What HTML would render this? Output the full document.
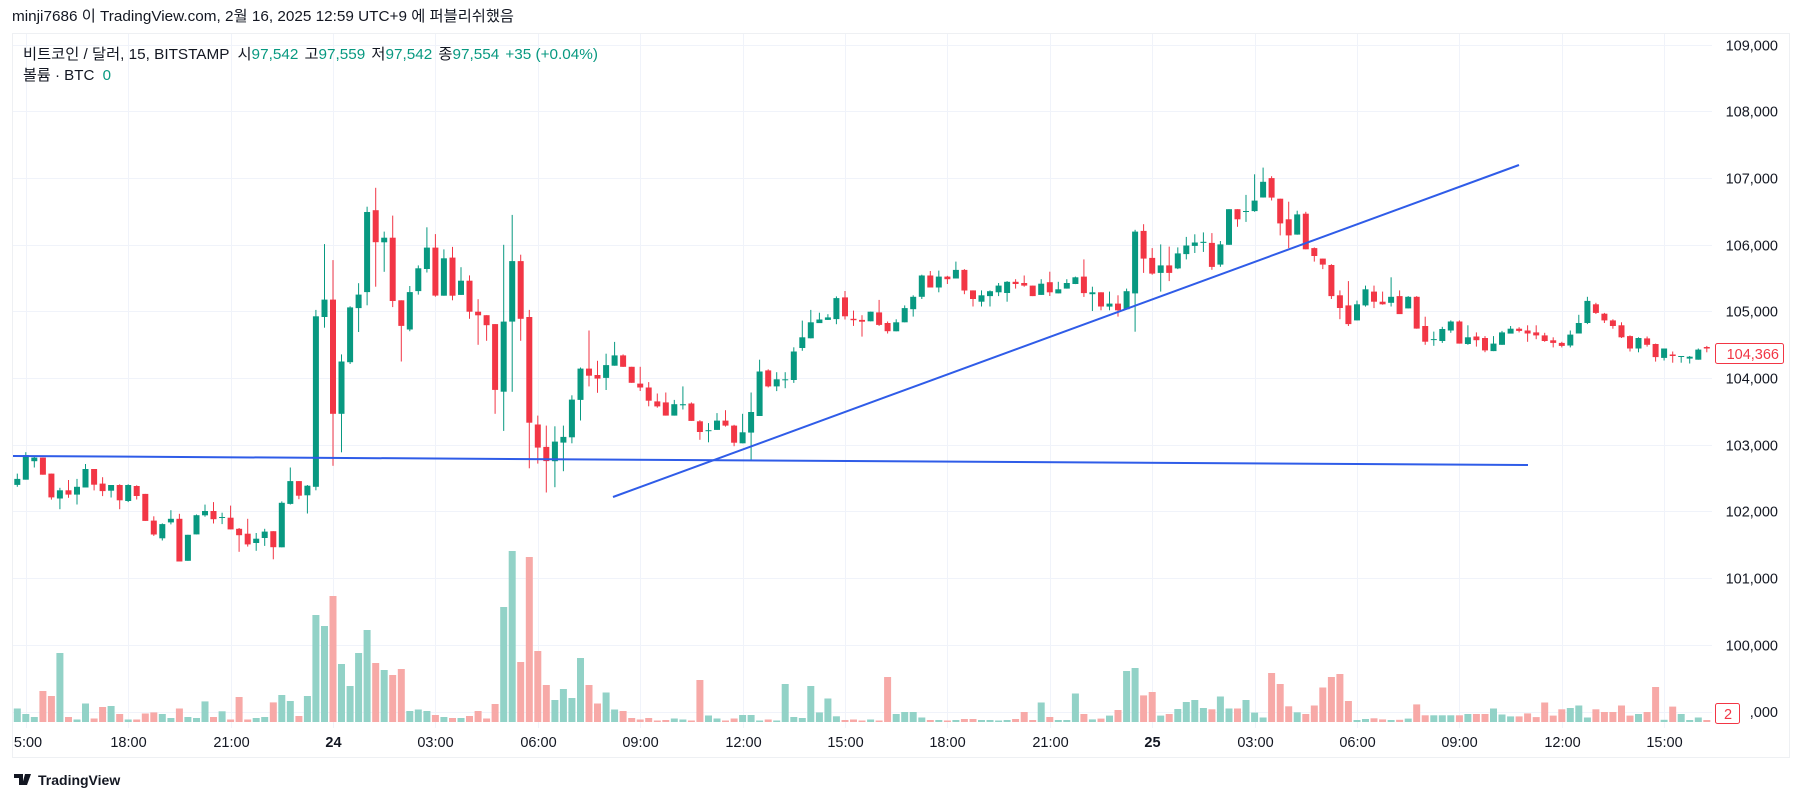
<!DOCTYPE html>
<html><head><meta charset="utf-8">
<style>
body{margin:0;background:#fff;width:1804px;height:803px;overflow:hidden;font-family:"Liberation Sans","Noto Sans CJK KR",sans-serif;color:#131722}
svg{position:absolute;left:0;top:0}
text{font-family:"Liberation Sans","Noto Sans CJK KR",sans-serif}
</style></head><body>
<svg id="s" width="1804" height="803" xmlns="http://www.w3.org/2000/svg">
<rect x="0" y="0" width="1804" height="803" fill="#fff"/>
<g id="grid" stroke="#f0f3fa" stroke-width="1"></g>
<rect x="12.5" y="33.5" width="1777" height="724" fill="none" stroke="#eef0f3"/>
<g id="vol"></g>
<g id="cdl"></g>
<line x1="13" y1="456" x2="1528" y2="465" stroke="#2f5ce8" stroke-width="2"/>
<line x1="613" y1="497" x2="1519" y2="165" stroke="#2f5ce8" stroke-width="2"/>
<text x="12" y="21" font-size="15" fill="#131722" textLength="502" lengthAdjust="spacingAndGlyphs">minji7686 이 TradingView.com, 2월 16, 2025 12:59 UTC+9 에 퍼블리쉬했음</text>
<text x="23" y="59" font-size="15" fill="#131722" textLength="575" lengthAdjust="spacingAndGlyphs">비트코인 / 달러, 15, BITSTAMP <tspan dx="4">시</tspan><tspan fill="#089981">97,542</tspan><tspan dx="6">고</tspan><tspan fill="#089981">97,559</tspan><tspan dx="6">저</tspan><tspan fill="#089981">97,542</tspan><tspan dx="6">종</tspan><tspan fill="#089981">97,554</tspan><tspan dx="6" fill="#089981">+35 (+0.04%)</tspan></text>
<text x="23" y="80" font-size="15" fill="#131722" textLength="88" lengthAdjust="spacingAndGlyphs">볼륨 · BTC <tspan dx="4" fill="#089981">0</tspan></text>
<g id="pax" font-size="14.5" fill="#131722" text-anchor="end"></g>
<g id="tax" font-size="14.5" fill="#131722" text-anchor="middle"></g>
<rect x="1715.5" y="343.5" width="68" height="20" fill="#fff" stroke="#f23645" rx="2"/>
<text x="1779" y="359" font-size="14.5" fill="#f23645" text-anchor="end">104,366</text>
<rect x="1715.5" y="703.5" width="24" height="20" fill="#fff" stroke="#f23645" rx="2"/>
<text x="1728" y="719" font-size="14.5" fill="#f23645" text-anchor="middle">2</text>
<g transform="translate(14,772)">
<path d="M0 2h9v11h-4V6H0z M11 2h3l-3 11H8z" fill="#131722"/>
<circle cx="14" cy="4" r="2" fill="#131722"/>
<path d="M13 2h4l-4 11h-3z" fill="#131722"/>
<text x="24" y="13" font-size="14" font-weight="bold" fill="#131722">TradingView</text>
</g>
</svg>
<script>
var NS="http://www.w3.org/2000/svg";
function el(p,n,a){var e=document.createElementNS(NS,n);for(var k in a)e.setAttribute(k,a[k]);p.appendChild(e);return e;}
function py(p){return 44.5+(109000-p)*0.0667;}
var grid=document.getElementById('grid'),pax=document.getElementById('pax'),tax=document.getElementById('tax');
for(var p=109000;p>=99000;p-=1000){var y=Math.round(py(p))+0.5;el(grid,'line',{x1:13,x2:1712,y1:y,y2:y});
 if(p>99000){var t=el(pax,'text',{x:1778,y:y+5});t.textContent=(p/1000)+',000';}}
var t=el(pax,'text',{x:1778,y:Math.round(py(99000))+5});t.textContent=',000';
var labs=['5:00','18:00','21:00','24','03:00','06:00','09:00','12:00','15:00','18:00','21:00','25','03:00','06:00','09:00','12:00','15:00'];
for(var i=0;i<labs.length;i++){var x=Math.round(25.7+i*102.4)+0.5;el(grid,'line',{x1:x,x2:x,y1:34,y2:728});
 var tt=el(tax,'text',{x:(i==0?28:x),y:747});tt.textContent=labs[i];if(labs[i]=='24'||labs[i]=='25')tt.setAttribute('font-weight','bold');}
var A=[[1,825,840,857,862],[1,765,773,842,842],[1,775,780,790,808],[0,780,780,828,828],[0,825,825,892,898],[1,865,872,895,925],[0,843,872,884,893],[1,840,862,884,912],[1,798,812,864,864],[0,812,812,856,872],
[0,835,853,874,888],[1,857,857,873,892],[0,855,857,900,925],[1,855,857,902,905],[0,858,860,888,898],[0,882,882,958,958],[0,945,957,996,1000],[1,965,967,1007,1013],[1,928,952,962,968],[0,938,952,1072,1072],
[1,997,997,1070,1070],[1,940,942,996,996],[1,912,930,942,946],[0,905,930,953,965],[1,935,947,949,967],[0,915,949,982,982],[0,978,980,998,1045],[0,952,994,1024,1030],[1,992,1008,1020,1042],[1,980,988,1006,1028],
[0,987,987,1032,1066],[1,903,907,1032,1032],[1,808,846,910,912],[0,846,846,887,897],[1,857,859,886,937],[1,365,383,862,872],[1,180,336,385,415],[0,225,336,657,803],[1,490,510,657,765],[1,355,358,512,517],
[1,290,322,360,427],[1,75,90,315,352],[0,22,85,175,300],[1,145,162,175,258],[0,100,162,340,357],[0,338,338,410,510],[1,298,315,420,425],[1,240,248,312,322],[1,133,190,250,260],[0,152,190,325,328],
[1,195,220,325,325],[0,188,218,325,338],[1,245,283,323,323],[0,268,283,370,390],[0,335,370,380,463],[0,380,380,408,452],[0,405,405,590,657],[1,182,398,595,705],[1,98,228,398,595],[0,210,228,390,452],
[0,365,385,682,810],[0,662,687,752,797],[0,690,750,790,878],[1,692,735,790,863],[1,690,722,738,818],[1,605,617,723,740],[1,527,530,618,676],[0,423,530,550,580],[0,508,548,558,598],[1,488,520,556,590],
[1,455,493,522,522],[0,490,493,525,525],[0,525,525,570,570],[0,525,572,583,593],[0,568,583,620,636],[0,600,622,636,640],[0,597,625,662,662],[1,618,630,662,662],[1,580,630,633,645],[0,625,628,677,677],
[0,675,678,708,730],[1,683,703,705,737],[1,655,676,702,702],[0,647,676,690,693],[0,688,690,738,748],[1,657,709,740,740],[1,597,652,710,788],[1,505,538,663,663],[0,532,535,580,583],[1,540,560,580,593],
[1,540,560,562,585],[1,470,482,562,570],[1,395,442,472,480],[1,365,400,445,445],[1,373,392,402,402],[1,377,386,393,393],[1,327,332,391,405],[0,312,330,383,392],[0,367,390,394,410],[0,380,393,398,440],
[1,370,370,397,397],[0,337,372,407,410]];
var B=[[0,458,462,484,490],[1,452,460,484,484],[1,415,422,460,460],[1,388,392,425,445],[1,333,335,392,398],[0,323,335,367,367],[1,322,338,367,380],[0,336,338,345,358],[1,298,320,343,343],[0,318,320,375,385],
[0,375,375,398,418],[1,375,388,405,418],[1,375,377,390,418],[1,355,362,380,390],[1,350,352,382,405],[0,345,352,358,370],[0,335,355,362,365],[0,362,362,390,390],[1,345,357,387,387],[0,325,353,380,390],
[1,352,372,383,383],[1,345,355,370,370],[1,338,340,358,358],[0,292,338,382,392],[1,365,380,385,430],[0,380,380,418,428],[1,378,410,418,428],[0,388,410,428,445],[1,370,377,425,425],[1,213,218,383,485],
[0,198,216,290,328],[0,262,288,330,333],[1,252,308,328,378],[0,258,308,328,350],[1,260,276,316,318],[1,232,255,278,292],[1,225,247,256,275],[1,220,245,248,272],[0,222,248,312,320],[1,243,252,306,312],
[1,158,158,253,253],[0,158,158,185,205],[1,120,163,165,192],[1,65,135,163,165],[1,47,85,127,127],[0,70,75,127,135],[0,130,130,196,228],[0,138,185,228,262],[1,162,172,226,226],[0,165,170,265,265],
[0,260,262,283,298],[0,290,290,306,318],[0,305,307,390,398],[0,375,388,422,452],[0,350,415,465,470],[1,402,412,455,455],[1,362,372,415,418],[0,362,378,405,422],[0,378,405,412,413],[1,340,392,408,418],
[0,375,390,438,438],[1,390,392,423,423],[0,390,392,477,477],[0,445,470,512,520],[1,485,505,507,523],[1,472,478,510,515],[1,455,458,482,488],[0,455,458,517,517],[1,468,500,518,520],[0,487,498,508,525],
[0,497,502,535,540],[1,497,517,537,537],[1,483,487,520,520],[1,470,477,490,490],[0,473,477,483,487],[0,468,482,490,512],[0,468,487,495,505],[0,488,495,510,512],[0,500,508,515,527],[0,512,515,523,527],
[1,482,493,522,527],[1,440,462,490,490],[1,392,403,462,465],[0,408,412,435,438],[0,435,437,455,462],[0,452,455,470,477],[0,460,468,500,502],[0,495,497,530,538],[1,500,502,530,540],[0,498,503,520,525],
[0,517,518,553,565],[1,530,530,555,562],[0,538,546,550,568],[1,550,550,552,568],[1,550,552,557,570],[1,530,533,560,560],[0,523,526,530,540]];
var V=[13.5,8,5,31,26,69,5,2.5,18.5,3.5,15,16,8,2.5,2.5,8.5,9.6,8,4,13.5,5,4,20.6,5,10.7,2.5,25,2.5,4,5,19.6,27,21,6,26,107,96,126,58,36,69,92,59,52,47,53,11,12.5,11,7,
5,4,4,6,11,3.5,18,115,171,60,165,71,37,22,33,24,64,37,18.5,29.5,12.5,11,4,2.5,4,1.5,2,3.5,2.5,1.5,42,6.5,3.5,1.5,3.5,7,7,1.5,2.5,1.5,38,5,4,36,9.6,23.5,5.7,2,2.5,1.5,2.5,
1.5,45,8,10,10,4.5,2,2,1.5,2,3,3,2,2,1.5,2,3,10,2,19.5,5,2,2,28.5,8,2.6,3.4,6.4,12,51,54,26.6,30,6.4,8,13,20,22,14,12.7,25.5,13.5,13.5,22,9.4,4.5,49,38,15.7,9.7,8,
16.5,34.5,45,48,21,2,3,3.7,2.6,2,2.2,3.4,17.6,6.7,6.7,6.7,6.7,6.7,8,8,8,13.5,7.5,5.6,5.6,8.6,4.9,19.5,6.4,12.7,14,16.5,4.5,12.7,10,10,16.5,6.4,8,10,35,2.2,15.4,8,2,4.5];
var cg=document.getElementById('cdl'),vg=document.getElementById('vol');
var all=[];
A.forEach(function(d){all.push([d[0],180+d[1]/2.81,180+d[2]/2.81,180+d[3]/2.81,180+d[4]/2.81]);});
B.forEach(function(d){all.push([d[0],150+d[1]/2.67,150+d[2]/2.67,150+d[3]/2.67,150+d[4]/2.67]);});
all.forEach(function(d,i){
 var x=333+(i-37)*8.533;var c=d[0]?'#089981':'#f23645';
 var h=V[i]||2;
 el(vg,'rect',{x:(x-3.5).toFixed(1),y:(722-h).toFixed(1),width:7,height:h.toFixed(1),fill:d[0]?'#92d2c7':'#f7a9a7'});
 el(cg,'rect',{x:(x-0.5).toFixed(1),y:d[1].toFixed(1),width:1,height:Math.max(1,d[4]-d[1]).toFixed(1),fill:c});
 el(cg,'rect',{x:(x-3).toFixed(1),y:d[2].toFixed(1),width:6,height:Math.max(1,d[3]-d[2]).toFixed(1),fill:c});
});
</script>
</body></html>
